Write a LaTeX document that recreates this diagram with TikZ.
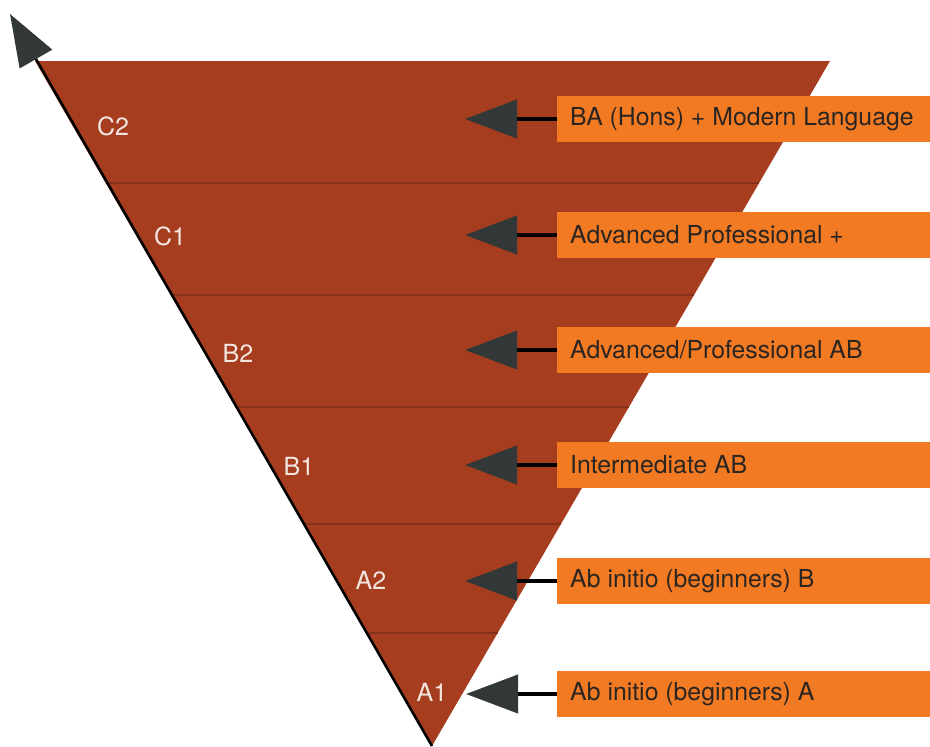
\documentclass[tikz,border=0pt]{standalone}
\usepackage{fontspec}
\setmainfont{TeX Gyre Heros}
\usetikzlibrary{arrows.meta,calc}
\definecolor{brick}{HTML}{A63D1F}
\definecolor{sepline}{HTML}{86321A}
\definecolor{boxorange}{HTML}{F27A22}
\definecolor{headgray}{HTML}{323737}
\definecolor{labelwhite}{HTML}{F3E6E0}
\definecolor{boxtext}{HTML}{2B2522}
\begin{document}
\begin{tikzpicture}[x=1pt,y=-1pt,
  levellabel/.style={text=labelwhite,font=\fontsize{25}{29}\selectfont,inner sep=0pt},
  infobox/.style={fill=boxorange,anchor=west,minimum height=46pt,inner xsep=13pt,inner ysep=0pt,text=boxtext,font=\fontsize{24.8}{28}\selectfont},
  pointer/.style={line width=4pt,black,-{Triangle[length=52pt,width=38pt,color=headgray,fill=headgray]}},
  axisline/.style={line width=2.6pt,black,-{Triangle[length=52pt,width=37pt,color=headgray,fill=headgray]}},
  sepl/.style={sepline,line width=1.1pt}]
\useasboundingbox (0,0) rectangle (930,747);
\coordinate (TL) at (35,61);
\coordinate (TR) at (830,61);
\coordinate (B) at (432,746);
\coordinate (axistip) at (10,14);
\fill[brick] (TL)--(TR)--(B)--cycle;
\foreach \yy in {183,295,407,524,633}
  \draw[sepl] ($(TL)!{(\yy-61)/685}!(B)$) -- ($(TR)!{(\yy-61)/685}!(B)$);
\draw[axisline] (B) -- (axistip);
% level labels
\node[levellabel] (C2) at (113,126) {C2};
\node[levellabel] (C1) at (170,236) {C1};
\node[levellabel] (B2) at (238,353) {B2};
\node[levellabel] (B1) at (299,466) {B1};
\node[levellabel] (A2) at (371,580) {A2};
\node[levellabel] (A1) at (432,692) {A1};
% boxes
\node[infobox] (bC2) at (557,119) {\makebox[347pt][l]{BA (Hons) + Modern Language}};
\node[infobox] (bC1) at (557,235) {\makebox[347pt][l]{Advanced Professional +}};
\node[infobox] (bB2) at (557,350) {\makebox[347pt][l]{Advanced/Professional AB}};
\node[infobox] (bB1) at (557,465) {\makebox[347pt][l]{Intermediate AB}};
\node[infobox] (bA2) at (557,581) {\makebox[347pt][l]{Ab initio (beginners) B}};
\node[infobox] (bA1) at (557,694) {\makebox[347pt][l]{Ab initio (beginners) A}};
% pointer ends
\coordinate (tC2) at (465,119);
\coordinate (tC1) at (465,235);
\coordinate (tB2) at (465,350);
\coordinate (tB1) at (465,465);
\coordinate (tA2) at (465,581);
\coordinate (tA1) at (466,694);
\foreach \n in {C2,C1,B2,B1,A2,A1}
  \draw[pointer] (b\n.west) -- (t\n);
\end{tikzpicture}
\end{document}
